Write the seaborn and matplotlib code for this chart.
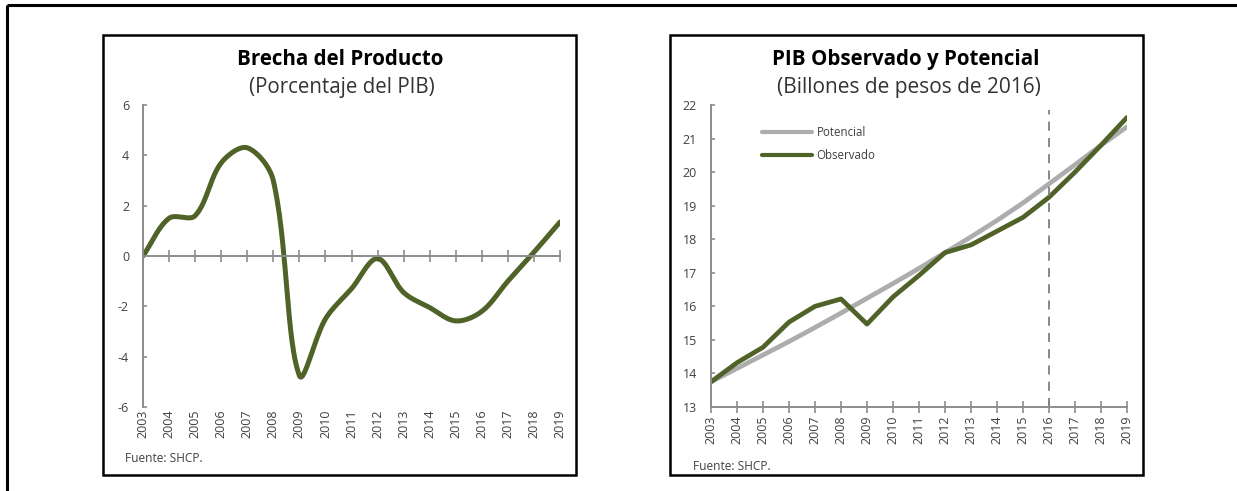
import numpy as np
import pandas as pd
import matplotlib
matplotlib.use("Agg")
import matplotlib.pyplot as plt
from matplotlib.patches import Rectangle
from matplotlib.lines import Line2D
import seaborn as sns

# ---- data -------------------------------------------------------------
years = list(range(2003, 2020))
brecha = [0.0, 1.5, 1.6, 3.7, 4.3, 3.0, -4.75, -2.5, -1.3, -0.1,
          -1.45, -2.05, -2.58, -2.2, -1.0, 0.15, 1.35]
potencial = [13.75, 14.15, 14.55, 14.95, 15.37, 15.8, 16.24, 16.68, 17.13,
             17.6, 18.07, 18.56, 19.08, 19.65, 20.22, 20.8, 21.35]
observado = [13.75, 14.32, 14.78, 15.53, 16.0, 16.22, 15.47, 16.28, 16.92,
             17.6, 17.83, 18.24, 18.65, 19.25, 20.0, 20.8, 21.63]
brecha_ticks = [-6, -4, -2, 0, 2, 4, 6]
pib_ticks = list(range(13, 23))
corte_proyeccion = 2016

GREEN = "#4F6228"
GREY_LINE = "#ADADAD"
AXIS = "#8C8C8C"
TXT = "#404040"

sns.set_theme(style="white")
plt.rcParams["font.family"] = ["Open Sans", "DejaVu Sans"]

W, H = 1237, 491
fig = plt.figure(figsize=(W / 100, H / 100), dpi=100)


def fx(px):
    return px / W


def fy(py):
    return 1 - py / H


def smooth(x, y, sx=26.0, sy=25.0, n=30):
    """Smoothed line through the points: Hermite segments whose tangents
    are weighted by the on-screen chord length of each neighbouring segment."""
    P = np.column_stack([np.asarray(x, float) * sx, np.asarray(y, float) * sy])
    m = len(P)
    d = np.linalg.norm(np.diff(P, axis=0), axis=1)
    t_out = np.zeros_like(P)
    t_in = np.zeros_like(P)
    t_out[0] = P[1] - P[0]
    t_in[-1] = P[-1] - P[-2]
    for i in range(1, m - 1):
        chord = P[i + 1] - P[i - 1]
        tot = d[i - 1] + d[i]
        t_out[i] = chord * d[i] / tot
        t_in[i] = chord * d[i - 1] / tot
    t = np.linspace(0, 1, n, endpoint=False)[:, None]
    h00 = 2 * t ** 3 - 3 * t ** 2 + 1
    h10 = t ** 3 - 2 * t ** 2 + t
    h01 = -2 * t ** 3 + 3 * t ** 2
    h11 = t ** 3 - t ** 2
    pts = []
    for i in range(m - 1):
        pts.append(h00 * P[i] + h10 * t_out[i] + h01 * P[i + 1]
                   + h11 * t_in[i + 1])
    pts.append(P[-1:])
    pts = np.vstack(pts)
    return pts[:, 0] / sx, pts[:, 1] / sy


# ---- outer frame and panel boxes -------------------------------------
fig.add_artist(Line2D([fx(7), fx(1237)], [fy(5), fy(5)], color="black", lw=2.2,
                      transform=fig.transFigure, solid_capstyle="butt"))
fig.add_artist(Line2D([fx(7), fx(7)], [fy(5), fy(491)], color="black", lw=2.2,
                      transform=fig.transFigure, solid_capstyle="butt"))
for x0, x1 in ((103, 576), (670, 1143)):
    fig.add_artist(Rectangle((fx(x0), fy(475)), fx(x1 - x0), (475 - 35) / H,
                             transform=fig.transFigure, fill=False,
                             edgecolor="black", lw=1.8))

# ---- left panel: output gap ------------------------------------------
ax1 = fig.add_axes([fx(143), fy(407), fx(560 - 143), (407 - 105) / H])
cx, cy = smooth(years, brecha)
df_b = pd.DataFrame({"anio": cx, "brecha": cy})
sns.lineplot(data=df_b, x="anio", y="brecha", ax=ax1, color=GREEN, lw=3.6,
             sort=False, estimator=None)
ax1.set_xlim(2003, 2019)
ax1.set_ylim(-6, 6)
ax1.set_yticks(brecha_ticks)
ax1.set_yticklabels([str(v) for v in brecha_ticks])
ax1.set_xticks(years)
ax1.spines["bottom"].set_position(("data", 0))
for s in ("top", "right"):
    ax1.spines[s].set_visible(False)
for s in ("left", "bottom"):
    ax1.spines[s].set_color(AXIS)
    ax1.spines[s].set_linewidth(1.4)
ax1.tick_params(axis="x", direction="inout", length=8, width=1.2, color=AXIS,
                labelbottom=False, bottom=True)
ax1.tick_params(axis="y", direction="in", length=3, width=1.2, color=AXIS,
                labelsize=9, labelcolor=TXT, pad=10, left=True)
sec = ax1.secondary_xaxis(0)
sec.set_xticks(years)
sec.set_xticklabels([str(y) for y in years], rotation=90)
sec.tick_params(length=0, labelsize=9, labelcolor=TXT, pad=2)
sec.spines["bottom"].set_visible(False)
ax1.set_xlabel("")
ax1.set_ylabel("")

fig.text(fx(340), fy(60), "Brecha del Producto", ha="center", va="center",
         fontsize=14.8, fontweight="bold", color="black")
fig.text(fx(342), fy(88), "(Porcentaje del PIB)", ha="center", va="center",
         fontsize=14.8, color="#333333")
fig.text(fx(125), fy(458), "Fuente: SHCP.", ha="left", va="center",
         fontsize=8.6, color=TXT)

# ---- right panel: observed and potential GDP -------------------------
ax2 = fig.add_axes([fx(711), fy(407), fx(1127 - 711), (407 - 105) / H])
df_p = pd.DataFrame({
    "anio": years * 2,
    "valor": potencial + observado,
    "serie": ["Potencial"] * len(years) + ["Observado"] * len(years),
})
sns.lineplot(data=df_p, x="anio", y="valor", hue="serie", ax=ax2,
             palette={"Potencial": GREY_LINE, "Observado": GREEN},
             linewidth=3.4, legend=False)
ax2.axvline(corte_proyeccion, ymin=0, ymax=0.985, color="#7F7F7F", lw=1.3,
            ls=(0, (5, 4)))
ax2.set_xlim(2003, 2019)
ax2.set_ylim(13, 22)
ax2.set_yticks(pib_ticks)
ax2.set_xticks(years)
ax2.set_xticklabels([str(y) for y in years], rotation=90)
for s in ("top", "right"):
    ax2.spines[s].set_visible(False)
for s in ("left", "bottom"):
    ax2.spines[s].set_color(AXIS)
    ax2.spines[s].set_linewidth(1.4)
ax2.tick_params(axis="x", direction="inout", length=8, width=1.2, color=AXIS,
                labelsize=9, labelcolor=TXT, pad=2, bottom=True)
ax2.tick_params(axis="y", direction="in", length=3, width=1.2, color=AXIS,
                labelsize=9, labelcolor=TXT, pad=10, left=True)
ax2.set_xlabel("")
ax2.set_ylabel("")

handles = [Line2D([], [], color=GREY_LINE, lw=3),
           Line2D([], [], color=GREEN, lw=3)]
ax2.legend(handles, ["Potencial", "Observado"], loc="upper left",
           bbox_to_anchor=(fx(752), fy(116)), bbox_transform=fig.transFigure,
           frameon=False, fontsize=8.3, handlelength=4.3, handletextpad=0.4,
           labelspacing=0.8, labelcolor=TXT)

fig.text(fx(906), fy(60), "PIB Observado y Potencial", ha="center",
         va="center", fontsize=14.8, fontweight="bold", color="black")
fig.text(fx(909), fy(88), "(Billones de pesos de 2016)", ha="center",
         va="center", fontsize=15, color="#333333")
fig.text(fx(693), fy(466), "Fuente: SHCP.", ha="left", va="center",
         fontsize=8.6, color=TXT)

fig.savefig("out.png", dpi=100)
